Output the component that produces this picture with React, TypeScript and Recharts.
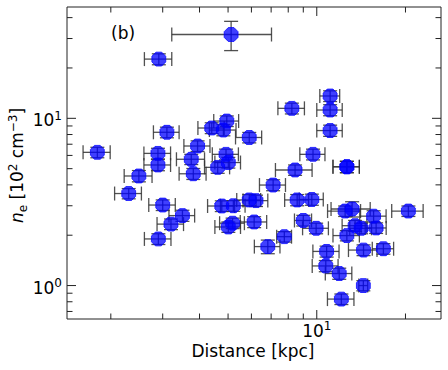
import { ScatterChart, Scatter, XAxis, YAxis, ErrorBar } from 'recharts'

// distance [kpc] and electron density [10^2 cm^-3]
const distance = [
  5.12, 2.91, 11.1, 8.23, 11.1, 4.95, 3.1, 4.4, 4.82, 11.1,
  5.9, 1.8, 2.89, 3.94, 3.75, 4.92, 9.71, 5.01, 2.89, 4.61,
  12.65, 12.65, 8.44, 2.49, 3.81, 7.11, 2.3, 5.9, 6.22, 8.58,
  9.62, 3.0, 4.76, 5.21, 12.48, 13.18, 15.59, 20.46, 3.5, 6.13,
  9.0, 3.2, 5.18, 5.01, 9.95, 13.49, 14.14, 15.9, 7.76, 12.65,
  2.9, 6.82, 10.8, 14.41, 16.83, 10.73, 11.92, 14.39, 12.12,
]
const density = [
  31.7, 22.6, 13.6, 11.47, 11.21, 9.63, 8.25, 8.75, 8.51, 8.45,
  7.68, 6.26, 6.17, 6.83, 5.69, 6.09, 6.09, 5.44, 5.26, 5.09,
  5.13, 5.13, 4.91, 4.52, 4.66, 3.99, 3.55, 3.25, 3.22, 3.25,
  3.27, 3.03, 2.99, 3.0, 2.79, 2.87, 2.6, 2.79, 2.62, 2.4,
  2.45, 2.33, 2.36, 2.24, 2.2, 2.28, 2.2, 2.21, 1.96, 1.99,
  1.9, 1.71, 1.6, 1.63, 1.66, 1.31, 1.18, 1.0, 0.83,
]
const distanceErr = [
  1.9, 0.31, 0.86, 0.85, 1.1, 0.48, 0.31, 0.45, 0.5, 1.1,
  0.6, 0.19, 0.3, 0.4, 0.41, 0.5, 0.95, 0.5, 0.3, 0.45,
  1.3, 1.3, 1.2, 0.27, 0.4, 0.72, 0.24, 0.55, 0.6, 0.8,
  0.9, 0.31, 0.5, 0.5, 1.6, 2.0, 1.6, 2.5, 0.35, 0.63,
  0.6, 0.33, 0.5, 0.5, 1.0, 1.3, 1.2, 1.3, 0.45, 1.3,
  0.3, 0.68, 1.1, 1.6, 1.4, 1.08, 1.23, 0.5, 1.25,
]
const densityErr = [
  6.3, 1.7, 1.0, 0.85, 0.85, 0.7, 0.6, 0.65, 0.65, 0.65,
  0.55, 0.45, 0.45, 0.5, 0.4, 0.45, 0.45, 0.4, 0.4, 0.4,
  0.4, 0.4, 0.35, 0.35, 0.35, 0.3, 0.25, 0.25, 0.25, 0.25,
  0.25, 0.22, 0.22, 0.22, 0.2, 0.3, 0.2, 0.2, 0.2, 0.18,
  0.18, 0.17, 0.17, 0.16, 0.16, 0.17, 0.16, 0.16, 0.14, 0.14,
  0.14, 0.16, 0.12, 0.12, 0.12, 0.1, 0.09, 0.07, 0.06,
]

const xTicks = [2, 3, 4, 5, 6, 7, 8, 9, 10, 20]
const yTicks = [0.7, 0.8, 0.9, 1, 2, 3, 4, 5, 6, 7, 8, 9, 10, 20, 30, 40]
const xMajor = [10]
const yMajor = [1, 10]

const points = distance.map((d, i) => ({
  distance: d,
  density: density[i],
  distErr: distanceErr[i],
  densErr: densityErr[i],
}))

const FONT = 'DejaVu Sans'
const AXIS = '#222'

const exponent = (v: number) => String(Math.round(Math.log10(v)))

const BottomTick = (props: any) => {
  const { x, y, payload } = props
  const major = xMajor.includes(payload.value)
  return (
    <g>
      <line x1={x} x2={x} y1={y} y2={y - (major ? 9 : 5.5)} stroke={AXIS} strokeWidth={1} />
      {major && (
        <text x={x} y={y + 17.5} textAnchor="middle" fontFamily={FONT} fontSize={17} fill="#000">
          10<tspan dy={-6.5} fontSize={12}>{exponent(payload.value)}</tspan>
        </text>
      )}
    </g>
  )
}

const TopTick = (props: any) => {
  const { x, y, payload } = props
  const major = xMajor.includes(payload.value)
  return <line x1={x} x2={x} y1={y} y2={y + (major ? 9 : 5.5)} stroke={AXIS} strokeWidth={1} />
}

const LeftTick = (props: any) => {
  const { x, y, payload } = props
  const major = yMajor.includes(payload.value)
  return (
    <g>
      <line x1={x} x2={x + (major ? 9 : 5.5)} y1={y} y2={y} stroke={AXIS} strokeWidth={1} />
      {major && (
        <text x={x - 5} y={y + 8} textAnchor="end" fontFamily={FONT} fontSize={17} fill="#000">
          10<tspan dy={-6.5} fontSize={12}>{exponent(payload.value)}</tspan>
        </text>
      )}
    </g>
  )
}

const RightTick = (props: any) => {
  const { x, y, payload } = props
  const major = yMajor.includes(payload.value)
  return <line x1={x} x2={x - (major ? 9 : 5.5)} y1={y} y2={y} stroke={AXIS} strokeWidth={1} />
}

// octagon marker, flat top and bottom
const Octagon = (props: any) => {
  const { cx, cy } = props
  const r = 7.5
  const pts = Array.from({ length: 8 }, (_, k) => {
    const a = (Math.PI / 8) * (2 * k + 1)
    return `${cx + r * Math.cos(a)},${cy + r * Math.sin(a)}`
  }).join(' ')
  return (
    <polygon
      points={pts}
      fill="#0000ff"
      fillOpacity={0.75}
      stroke="#0000ff"
      strokeOpacity={0.75}
      strokeWidth={1}
    />
  )
}

export default function App() {
  return (
    <div style={{ position: 'absolute', left: 0, top: 0, width: 448, height: 370, background: '#fff' }}>
      <ScatterChart width={448} height={370} margin={{ top: 0, right: 0, bottom: 11, left: 7 }}>
        <XAxis
          xAxisId="bottom"
          type="number"
          dataKey="distance"
          scale="log"
          domain={[1.42, 26.4]}
          allowDataOverflow
          ticks={xTicks}
          interval={0}
          height={40}
          tickSize={0}
          tickMargin={0}
          tickLine={false}
          tick={<BottomTick />}
          axisLine={{ stroke: AXIS, strokeWidth: 1 }}
        />
        <XAxis
          xAxisId="top"
          orientation="top"
          type="number"
          dataKey="distance"
          scale="log"
          domain={[1.42, 26.4]}
          allowDataOverflow
          ticks={xTicks}
          interval={0}
          height={7}
          tickSize={0}
          tickMargin={0}
          tickLine={false}
          tick={<TopTick />}
          axisLine={{ stroke: AXIS, strokeWidth: 1 }}
        />
        <YAxis
          yAxisId="left"
          type="number"
          dataKey="density"
          scale="log"
          domain={[0.631, 46.3]}
          allowDataOverflow
          ticks={yTicks}
          interval={0}
          width={60}
          tickSize={0}
          tickMargin={0}
          tickLine={false}
          tick={<LeftTick />}
          axisLine={{ stroke: AXIS, strokeWidth: 1 }}
        />
        <YAxis
          yAxisId="right"
          orientation="right"
          type="number"
          dataKey="density"
          scale="log"
          domain={[0.631, 46.3]}
          allowDataOverflow
          ticks={yTicks}
          interval={0}
          width={7}
          tickSize={0}
          tickMargin={0}
          tickLine={false}
          tick={<RightTick />}
          axisLine={{ stroke: AXIS, strokeWidth: 1 }}
        />
        <Scatter
          xAxisId="bottom"
          yAxisId="left"
          data={points}
          shape={<Octagon />}
          isAnimationActive={false}
        >
          <ErrorBar dataKey="distErr" direction="x" width={7} stroke="#333" strokeWidth={1.3} strokeOpacity={0.85} />
          <ErrorBar dataKey="densErr" direction="y" width={7} stroke="#333" strokeWidth={1.3} strokeOpacity={0.85} />
        </Scatter>
      </ScatterChart>
      <svg
        width={448}
        height={370}
        style={{ position: 'absolute', left: 0, top: 0, pointerEvents: 'none' }}
        fontFamily={FONT}
      >
        <text x={111} y={38.5} fontSize={17} fill="#000">(b)</text>
        <text x={253} y={357} fontSize={17} textAnchor="middle" fill="#000">Distance [kpc]</text>
        <text
          x={23}
          y={165.5}
          fontSize={17}
          textAnchor="middle"
          fill="#000"
          transform="rotate(-90, 23, 165.5)"
        >
          <tspan fontStyle="italic">n</tspan>
          <tspan fontSize={12} dy={4}>e</tspan>
          <tspan dy={-4}> [10</tspan>
          <tspan fontSize={12} dy={-6.5}>2</tspan>
          <tspan dy={6.5}> cm</tspan>
          <tspan fontSize={12} dy={-6.5}>−3</tspan>
          <tspan dy={6.5}>]</tspan>
        </text>
      </svg>
    </div>
  )
}
